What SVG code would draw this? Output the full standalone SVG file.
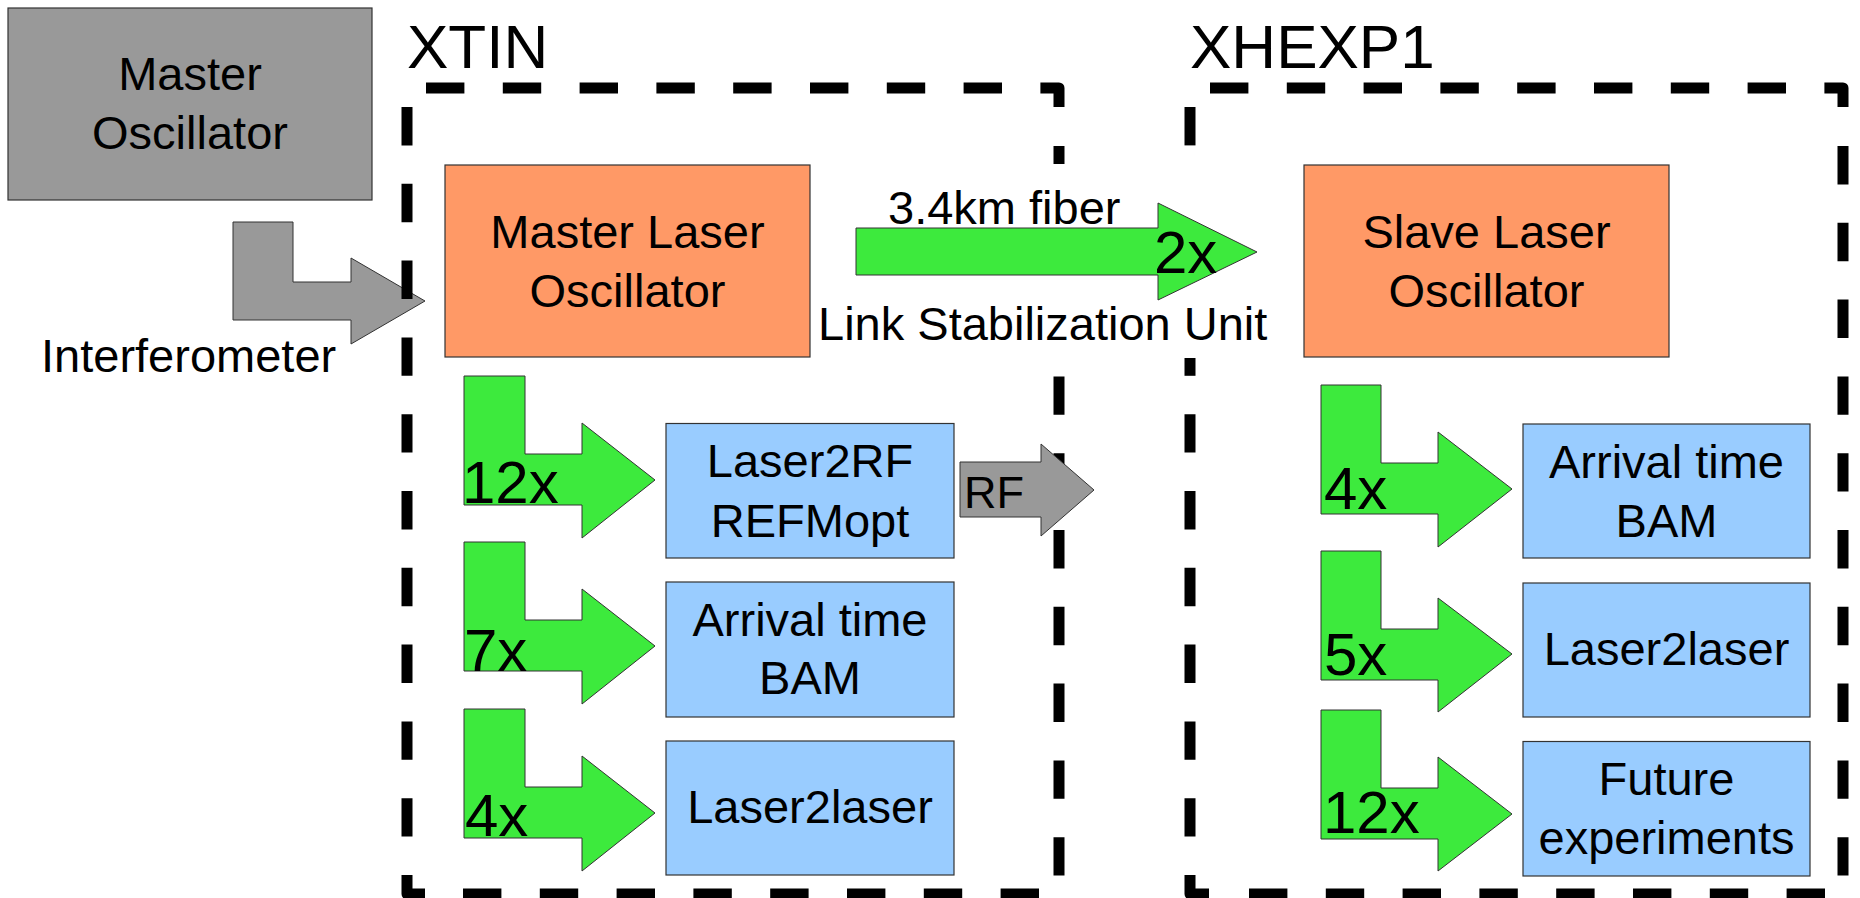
<svg xmlns="http://www.w3.org/2000/svg" width="1860" height="898" viewBox="0 0 1860 898">
  <style>
    text { font-family: "Liberation Sans", Arial, Helvetica, sans-serif; fill: #000; }
    .lbl { font-size: 47px; }
    .mid { text-anchor: middle; }
    .cnt { font-size: 60px; }
    .area { font-size: 62px; }
    .box { stroke: #333; stroke-width: 1.2; }
    .gray { fill: #999999; }
    .orange { fill: #ff9966; }
    .blue { fill: #99ccff; }
    .green { fill: #3dea3d; stroke: #333; stroke-width: 1; }
    .garrow { fill: #999999; stroke: #333; stroke-width: 1; }
    .dash { fill: none; stroke: #000; stroke-width: 11; stroke-dasharray: 38.4 38.4; }
    .solid { fill: none; stroke: #000; stroke-width: 11; stroke-linejoin: round; }
  </style>

  <!-- Master Oscillator -->
  <g id="master-oscillator">
    <rect class="box gray" x="8" y="8" width="364" height="192"/>
    <text class="lbl mid" x="190" y="90">Master</text>
    <text class="lbl mid" x="190" y="149">Oscillator</text>
  </g>

  <!-- Connectors below the dashed area frames -->
  <g id="connectors">
    <!-- Interferometer: master oscillator to master laser -->
    <polygon class="garrow" points="233,222 293,222 293,282 351,282 351,258 425,301 351,344 351,320 233,320"/>
    <!-- distribution arrows in XTIN -->
    <polygon class="green" points="464,376 525,376 525,454 582,454 582,423 655,480 582,538 582,505 464,505"/>
    <polygon class="green" points="464,542 525,542 525,620 582,620 582,589 655,646 582,704 582,671 464,671"/>
    <polygon class="green" points="464,709 525,709 525,787 582,787 582,756 655,813 582,871 582,838 464,838"/>
    <!-- distribution arrows in XHEXP1 -->
    <polygon class="green" points="1321,385 1381,385 1381,463 1438,463 1438,432 1512,489 1438,547 1438,514 1321,514"/>
    <polygon class="green" points="1321,551 1381,551 1381,629 1438,629 1438,598 1512,654 1438,712 1438,680 1321,680"/>
    <polygon class="green" points="1321,710 1381,710 1381,788 1438,788 1438,757 1512,814 1438,871 1438,839 1321,839"/>
  </g>

  <!-- XTIN area frame -->
  <g id="area-xtin">
    <text class="area" x="407" y="68">XTIN</text>
    <line class="dash" x1="426" y1="88" x2="1040" y2="88"/>
    <path class="solid" d="M1040.4,88 H1059 V107"/>
    <line class="solid" x1="1059" y1="146" x2="1059" y2="164"/>
    <line class="dash" x1="1059" y1="376.4" x2="1059" y2="894"/>
    <line class="dash" x1="463" y1="894" x2="1040" y2="894"/>
    <path class="solid" d="M407,875 V894 H425"/>
    <line class="dash" x1="407" y1="107" x2="407" y2="840"/>
  </g>

  <!-- XHEXP1 area frame -->
  <g id="area-xhexp1">
    <text class="area" x="1190" y="68">XHEXP1</text>
    <line class="dash" x1="1210" y1="88" x2="1787" y2="88"/>
    <path class="solid" d="M1824.4,88 H1843 V107"/>
    <line class="dash" x1="1843" y1="146" x2="1843" y2="894"/>
    <line class="dash" x1="1249" y1="894" x2="1826" y2="894"/>
    <path class="solid" d="M1190,875 V894 H1209"/>
    <line class="solid" x1="1190" y1="107" x2="1190" y2="145.4"/>
    <line class="solid" x1="1190" y1="358" x2="1190" y2="375.8"/>
    <line class="dash" x1="1190" y1="414.2" x2="1190" y2="840"/>
  </g>

  <!-- RF output, drawn over the XTIN frame -->
  <g id="rf-output">
    <polygon class="garrow" points="960,462 1041,462 1041,444 1094,490 1041,536 1041,517 960,517"/>
    <text x="964" y="508" style="font-size:45px">RF</text>
  </g>

  <!-- fiber link between the laser oscillators -->
  <g id="fiber-link">
    <polygon class="green" points="856,228 1158,228 1158,203 1257,252 1158,300 1158,275 856,275"/>
    <text class="lbl" x="888" y="224">3.4km fiber</text>
    <text class="cnt" x="1154" y="273">2x</text>
    <text class="lbl" x="818" y="340">Link Stabilization Unit</text>
  </g>

  <!-- labels on connectors -->
  <g id="connector-labels">
    <text class="lbl" x="41" y="372">Interferometer</text>
    <text class="cnt" x="462" y="503">12x</text>
    <text class="cnt" x="464" y="671">7x</text>
    <text class="cnt" x="465" y="836">4x</text>
    <text class="cnt" x="1324" y="509">4x</text>
    <text class="cnt" x="1324" y="675">5x</text>
    <text class="cnt" x="1323" y="833">12x</text>
  </g>

  <!-- Master Laser Oscillator -->
  <g id="master-laser">
    <rect class="box orange" x="445" y="165" width="365" height="192"/>
    <text class="lbl mid" x="627.5" y="248">Master Laser</text>
    <text class="lbl mid" x="627.5" y="307">Oscillator</text>
  </g>

  <!-- Slave Laser Oscillator -->
  <g id="slave-laser">
    <rect class="box orange" x="1304" y="165" width="365" height="192"/>
    <text class="lbl mid" x="1486.5" y="248">Slave Laser</text>
    <text class="lbl mid" x="1486.5" y="307">Oscillator</text>
  </g>

  <!-- XTIN clients -->
  <g id="xtin-laser2rf">
    <rect class="box blue" x="666" y="423.5" width="288" height="134.5"/>
    <text class="lbl mid" x="810" y="477">Laser2RF</text>
    <text class="lbl mid" x="810" y="537">REFMopt</text>
  </g>
  <g id="xtin-bam">
    <rect class="box blue" x="666" y="582" width="288" height="135"/>
    <text class="lbl mid" x="810" y="635.5">Arrival time</text>
    <text class="lbl mid" x="810" y="693.5">BAM</text>
  </g>
  <g id="xtin-laser2laser">
    <rect class="box blue" x="666" y="741" width="288" height="134"/>
    <text class="lbl mid" x="810" y="823">Laser2laser</text>
  </g>

  <!-- XHEXP1 clients -->
  <g id="xhexp1-bam">
    <rect class="box blue" x="1523" y="424" width="287" height="134"/>
    <text class="lbl mid" x="1666.5" y="478">Arrival time</text>
    <text class="lbl mid" x="1666.5" y="537">BAM</text>
  </g>
  <g id="xhexp1-laser2laser">
    <rect class="box blue" x="1523" y="583" width="287" height="134"/>
    <text class="lbl mid" x="1666.5" y="665">Laser2laser</text>
  </g>
  <g id="xhexp1-future">
    <rect class="box blue" x="1523" y="741.5" width="287" height="134.5"/>
    <text class="lbl mid" x="1666.5" y="795">Future</text>
    <text class="lbl mid" x="1666.5" y="854">experiments</text>
  </g>
</svg>
